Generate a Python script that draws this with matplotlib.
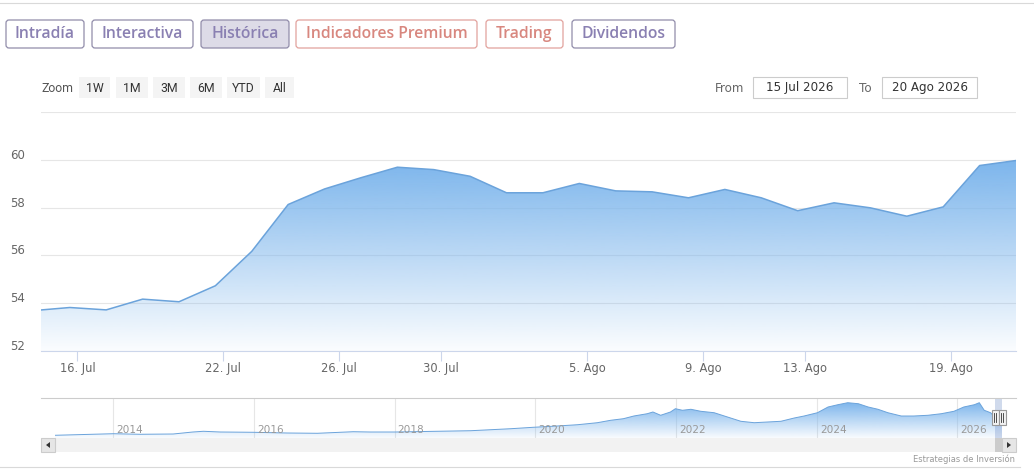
import numpy as np
import pandas as pd
import matplotlib
matplotlib.use('Agg')
import matplotlib.pyplot as plt
from matplotlib.colors import to_rgb
from matplotlib.patches import FancyBboxPatch, Rectangle, Polygon
from matplotlib.transforms import ScaledTranslation

plt.rcParams['font.family'] = ['DejaVu Sans']

W, H = 1034, 475

# daily closes shown in the main chart (trading days only)
dates = pd.to_datetime([
    '2026-07-14', '2026-07-15', '2026-07-16', '2026-07-17', '2026-07-20',
    '2026-07-21', '2026-07-22', '2026-07-23', '2026-07-24', '2026-07-27',
    '2026-07-28', '2026-07-29', '2026-07-30', '2026-07-31', '2026-08-03',
    '2026-08-04', '2026-08-05', '2026-08-06', '2026-08-07', '2026-08-10',
    '2026-08-11', '2026-08-12', '2026-08-13', '2026-08-14', '2026-08-17',
    '2026-08-18', '2026-08-19', '2026-08-20'])
prices = [53.69, 53.82, 53.72, 54.17, 54.06, 54.73, 56.17, 58.13, 58.78, 59.25,
          59.69, 59.59, 59.31, 58.62, 58.62, 59.01, 58.70, 58.66, 58.41, 58.76,
          58.41, 57.87, 58.20, 57.99, 57.64, 58.03, 59.76, 59.97]

y_ticks = [52, 54, 56, 58, 60, 62]
x_tick_dates = pd.to_datetime(['2026-07-16', '2026-07-22', '2026-07-26', '2026-07-30',
                               '2026-08-05', '2026-08-09', '2026-08-13', '2026-08-19'])
x_tick_labels = ['16. Jul', '22. Jul', '26. Jul', '30. Jul',
                 '5. Ago', '9. Ago', '13. Ago', '19. Ago']
range_from = pd.Timestamp('2026-07-15')
range_to = pd.Timestamp('2026-08-20')

# long history in the navigator (decimal years, estimated closes)
nav_years = [2013.17, 2014.0, 2014.38, 2014.85, 2015.13, 2015.28, 2015.52, 2015.99,
             2016.47, 2016.90, 2017.41, 2017.65, 2018.01, 2018.60, 2019.08, 2019.65,
             2019.97, 2020.31, 2020.60, 2020.88, 2021.07, 2021.25, 2021.40, 2021.59,
             2021.67, 2021.78, 2021.92, 2021.99, 2022.09, 2022.21, 2022.35, 2022.54,
             2022.73, 2022.92, 2023.11, 2023.30, 2023.49, 2023.68, 2023.82, 2024.01,
             2024.16, 2024.30, 2024.44, 2024.59, 2024.73, 2024.87, 2025.01, 2025.20,
             2025.38, 2025.58, 2025.77, 2025.95, 2026.09, 2026.24, 2026.31, 2026.38,
             2026.47]
nav_prices = [28.1, 30.3, 29.5, 29.9, 32.7, 33.7, 32.7, 32.3, 31.3, 30.9, 33.1, 32.7,
              32.7, 33.7, 34.5, 37.3, 39.3, 41.1, 42.9, 45.7, 49.1, 51.3, 55.1, 58.3,
              60.7, 56.1, 60.7, 65.3, 63.1, 64.5, 61.7, 59.7, 53.7, 47.7, 45.7, 46.7,
              47.7, 52.3, 55.1, 59.7, 67.7, 70.9, 73.7, 72.3, 67.7, 64.5, 59.7, 55.1,
              55.1, 56.1, 58.3, 61.7, 67.7, 70.9, 73.7, 63.1, 59.7]
nav_tick_years = [2014, 2016, 2018, 2020, 2022, 2024, 2026]

tabs = ['Intradía', 'Interactiva', 'Histórica', 'Indicadores Premium', 'Trading', 'Dividendos']
zoom_buttons = ['1W', '1M', '3M', '6M', 'YTD', 'All']

BLUE = '#7cb5ec'
LINE = '#6ba3db'


def dec_year(ts):
    ts = pd.DatetimeIndex(ts)
    return ts.year + (ts.dayofyear - 1 + ts.hour / 24) / 365.0


def gradient_fill(ax, x, y, base, top_alpha, bottom_alpha):
    poly = ax.fill_between(x, y, base, facecolor='none', edgecolor='none')
    grad = np.zeros((256, 1, 4))
    grad[..., :3] = to_rgb(BLUE)
    grad[:, 0, 3] = np.linspace(top_alpha, bottom_alpha, 256)
    im = ax.imshow(grad, extent=[min(x), max(x), base, max(y)], origin='upper',
                   aspect='auto', zorder=1, interpolation='bilinear')
    im.set_clip_path(poly.get_paths()[0], transform=ax.transData)


fig = plt.figure(figsize=(W / 100, H / 100), dpi=100)

# ---- main chart (ordinal x axis: one slot per trading day) ----
ax = fig.add_axes([41 / W, 1 - 351 / H, 975 / W, 239 / H])
x = np.arange(len(dates)) - 1
point_time = (dates + pd.Timedelta(hours=19)).asi8
tick_pos = np.interp(x_tick_dates.asi8, point_time, x)
left_edge = np.interp(range_from.value, point_time, x)

gradient_fill(ax, x, prices, 52, 1.0, 0.03)
ax.plot(x, prices, color=LINE, lw=1.1, zorder=3)
ax.set_xlim(left_edge, x[-1])
ax.set_ylim(52, 62)

ax.set_axisbelow(True)
ax.yaxis.grid(True, color='#e6e6e6', lw=0.8)
for s in ['top', 'right', 'left']:
    ax.spines[s].set_visible(False)
ax.spines['bottom'].set_color('#ccd6eb')
ax.spines['bottom'].set_linewidth(0.8)

ax.set_yticks(y_ticks)
ax.set_yticklabels([str(v) if v < 62 else '' for v in y_ticks])
ax.tick_params(axis='y', length=0, pad=11.5, labelsize=8.5, labelcolor='#666666')
for lab in ax.get_yticklabels():
    lab.set_transform(lab.get_transform() + ScaledTranslation(0, 6 / 100, fig.dpi_scale_trans))
ax.set_xticks(tick_pos)
ax.set_xticklabels(x_tick_labels)
ax.tick_params(axis='x', length=7.2, width=0.8, color='#ccd6eb', labelcolor='#666666',
               labelsize=8.3, pad=1)

# ---- navigator ----
nav = fig.add_axes([55 / W, 1 - 438 / H, 947 / W, 40 / H])
nx = np.concatenate([nav_years, dec_year(dates)])
ny = np.concatenate([nav_prices, prices])
nav_lo = 24.3
gradient_fill(nav, nx, ny, nav_lo, 1.0, 0.05)
nav.plot(nx, ny, color=LINE, lw=0.7, zorder=3)
t_from = dec_year([range_from])[0]
t_to = dec_year([range_to])[0]
nav.set_xlim(nx[0], t_to)
nav.set_ylim(nav_lo, 80.3)
nav.axis('off')
for yr in nav_tick_years:
    nav.axvline(yr, color='#e6e6e6', lw=0.8, zorder=0.5)
    nav.annotate(str(yr), xy=(yr, 0), xycoords=('data', 'axes fraction'),
                 xytext=(3, 3), textcoords='offset pixels', ha='left', va='bottom',
                 fontsize=7.6, color='#999999', zorder=4)
nav.axvspan(t_from, t_to, color=(102 / 255, 133 / 255, 194 / 255, 0.3), lw=0, zorder=4)

# ---- page furniture in pixel coordinates ----
ov = fig.add_axes([0, 0, 1, 1], zorder=5)
ov.set_xlim(0, W)
ov.set_ylim(H, 0)
ov.axis('off')
ov.patch.set_alpha(0)

ov.plot([0, W], [3, 3], color='#d9d9d9', lw=0.8)
ov.plot([0, 1020], [467, 467], color='#d9d9d9', lw=0.8)

tab_edges = [(6, 84), (92, 193), (201, 289), (296, 477), (486, 563), (572, 675)]
for name, (x0, x1) in zip(tabs, tab_edges):
    premium = name in ('Indicadores Premium', 'Trading')
    edge = '#e2a29d' if premium else '#918caa'
    txt = '#d8877f' if premium else '#8a80b2'
    face = '#dddbe7' if name == 'Histórica' else 'white'
    ov.add_patch(FancyBboxPatch((x0, 20), x1 - x0, 28, boxstyle='round,pad=0,rounding_size=3',
                                fc=face, ec=edge, lw=0.9))
    ov.text((x0 + x1) / 2, 34.5, name, ha='center', va='center', fontsize=11.3,
            family='Open Sans', weight='semibold', color=txt)

ov.text(41, 88, 'Zoom', ha='left', va='center', fontsize=8.8, family='Roboto', color='#555555')
zoom_edges = [(79, 110), (116, 148), (153, 185), (190, 222), (227, 260), (265, 294)]
for name, (x0, x1) in zip(zoom_buttons, zoom_edges):
    ov.add_patch(Rectangle((x0, 77), x1 - x0, 21, fc='#f4f4f4', ec='none'))
    ov.text((x0 + x1) / 2, 88, name, ha='center', va='center', fontsize=8.8,
            family='Roboto', color='#333333')

ov.text(715, 88, 'From', ha='left', va='center', fontsize=8.6, color='#666666')
ov.text(859, 88, 'To', ha='left', va='center', fontsize=8.6, color='#666666')
for label, (x0, x1) in [('15 Jul 2026', (753, 847)), ('20 Ago 2026', (882, 977))]:
    ov.add_patch(Rectangle((x0, 77), x1 - x0, 21, fc='white', ec='#cccccc', lw=0.8))
    ov.text((x0 + x1) / 2, 88, label, ha='center', va='center', fontsize=8.6, color='#333333')

# navigator outline, scrollbar and handles
ov.plot([41, 1016], [398, 398], color='#cccccc', lw=0.8)
ov.add_patch(Rectangle((41, 438), 975, 14, fc='#f2f2f2', ec='none'))
px_from = nav.transData.transform((t_from, 0))[0]
px_to = nav.transData.transform((t_to, 0))[0]
ov.add_patch(Rectangle((px_from, 438), px_to - px_from, 14, fc='#cccccc', ec='none'))
for bx, pts in [(41, [(46, 445), (50, 442), (50, 448)]),
                (1002, [(1011, 445), (1007, 442), (1007, 448)])]:
    ov.add_patch(Rectangle((bx, 438), 14, 14, fc='#e6e6e6', ec='#cccccc', lw=0.8))
    ov.add_patch(Polygon(pts, closed=True, fc='#333333', ec='none'))
for hx in (px_from, px_to):
    ov.add_patch(Rectangle((hx - 3.5, 410), 7, 15, fc='#f2f2f2', ec='#999999', lw=0.8))
    for dx in (-1.2, 1.2):
        ov.plot([hx + dx, hx + dx], [413, 422], color='#333333', lw=0.6)

ov.text(1015, 459, 'Estrategias de Inversión', ha='right', va='center', fontsize=6,
        color='#999999')

fig.savefig('out.png', dpi=100)
